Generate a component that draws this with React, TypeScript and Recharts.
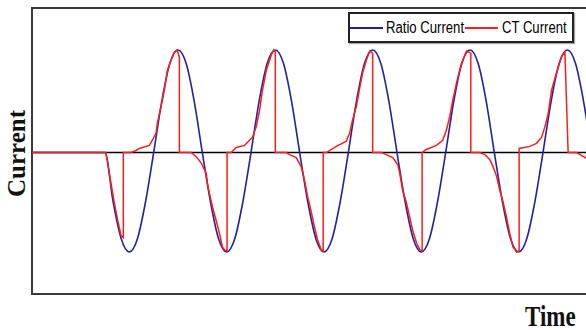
import { LineChart, Line, XAxis, YAxis, ReferenceArea, Legend } from "recharts"

// time in 1/12 of a cycle, current in per-unit of the peak
const timeDomain: [number, number] = [0, 72]
const currentDomain: [number, number] = [-1.38, 1.41]

const seriesNames = ["Ratio Current", "CT Current"]

const zeroAxis: [number, number][] = [
  [0, 0],
  [72, 0],
]

const ratioCurrent: [number, number][] = [
  [0, 0], [9, 0],
  [10, -0.48], [11, -0.84], [12, -0.97], [13, -0.84], [14, -0.48], [15, 0],
  [16, 0.5], [17, 0.87], [18, 1], [19, 0.87], [20, 0.5], [21, 0],
  [22, -0.48], [23, -0.84], [24, -0.97], [25, -0.84], [26, -0.48], [27, 0],
  [28, 0.5], [29, 0.87], [30, 1], [31, 0.87], [32, 0.5], [33, 0],
  [34, -0.48], [35, -0.84], [36, -0.97], [37, -0.84], [38, -0.48], [39, 0],
  [40, 0.5], [41, 0.87], [42, 1], [43, 0.87], [44, 0.5], [45, 0],
  [46, -0.48], [47, -0.84], [48, -0.97], [49, -0.84], [50, -0.48], [51, 0],
  [52, 0.5], [53, 0.87], [54, 1], [55, 0.87], [56, 0.5], [57, 0],
  [58, -0.48], [59, -0.84], [60, -0.97], [61, -0.84], [62, -0.48], [63, 0],
  [64, 0.5], [65, 0.87], [66, 1], [67, 0.87], [68, 0.5], [69, 0],
  [70, -0.48], [71, -0.84], [72, -0.97],
]

const ctCurrent: [number, number][] = [
  [0, 0], [9.1, 0],
  [9.32, -0.1], [9.74, -0.3], [10.15, -0.49], [10.56, -0.66], [10.98, -0.81], [11.26, -0.83], [11.26, 0],
  [12.2, 0], [12.83, 0.02], [13.23, 0.04], [14.47, 0.07], [14.84, 0.12], [15.3, 0.19], [15.46, 0.29],
  [15.91, 0.45], [16.32, 0.61], [16.69, 0.8], [17.15, 0.9], [17.56, 0.98], [17.89, 1.0], [18.17, 0.93], [18.17, 0],
  [19.62, 0], [20.23, -0.04], [20.85, -0.1], [21.47, -0.2], [21.63, -0.3], [21.88, -0.4], [22.25, -0.53],
  [22.7, -0.66], [23.11, -0.79], [23.48, -0.92], [23.73, -0.95], [24.05, -0.96], [24.05, 0],
  [24.56, 0], [25.17, 0.05], [26.2, 0.07], [27.19, 0.15], [27.64, 0.25], [28.05, 0.41], [28.42, 0.61],
  [28.88, 0.8], [29.49, 0.95], [29.81, 1.0], [30.0, 0.98], [30.0, 0],
  [31.35, 0], [31.75, -0.02], [32.58, -0.05], [33.2, -0.14], [33.6, -0.27], [33.98, -0.43], [34.43, -0.58],
  [34.84, -0.73], [35.2, -0.85], [35.67, -0.95], [35.9, -0.96], [35.9, 0],
  [36.3, 0], [37.52, 0.06], [38.75, 0.11], [39.16, 0.19], [39.53, 0.32], [39.99, 0.45], [40.4, 0.63],
  [40.77, 0.78], [41.22, 0.9], [41.63, 0.99], [42.0, 0.97], [42.0, 0],
  [43.07, 0], [43.69, -0.02], [44.47, -0.05], [45.1, -0.12], [45.33, -0.2], [45.7, -0.37], [46.16, -0.49],
  [46.57, -0.63], [46.94, -0.76], [47.4, -0.88], [47.8, -0.95], [48.1, -0.96], [48.1, 0],
  [48.6, 0.03], [49.86, 0.07], [50.64, 0.12], [51.1, 0.22], [51.5, 0.35], [51.88, 0.51], [52.33, 0.68],
  [52.95, 0.87], [53.57, 0.99], [54.1, 0.97], [54.1, 0],
  [55.2, 0], [55.83, -0.02], [56.45, -0.07], [56.85, -0.14], [57.27, -0.23], [57.68, -0.37], [58.1, -0.49],
  [58.5, -0.63], [58.9, -0.79], [59.3, -0.92], [59.74, -0.97], [60.06, -0.96], [60.06, 0.04],
  [61.38, 0.06], [62.2, 0.09], [62.83, 0.15], [63.23, 0.25], [63.64, 0.38], [64.06, 0.61], [64.68, 0.78],
  [65.3, 0.94], [65.7, 0.98], [66.1, 0],
  [67.15, 0], [68.2, -0.05], [69.0, -0.1], [69.6, -0.2], [70.2, -0.37], [70.7, -0.55], [71.2, -0.72], [72, -0.9],
]

const toRows = (pts: [number, number][]) => pts.map(([t, v]) => ({ t, v }))

const BLUE = "#22239c"
const RED = "#ff1c1c"
const labelFont = "'Liberation Serif', 'Times New Roman', serif"
const legendFont = "'Liberation Sans', Arial, sans-serif"

// narrow legend text: Arial squeezed like Arial Narrow
const legendSlots = [
  { line: 0, text: 36 },
  { line: 115, text: 151.5 },
]

function LegendBox({ payload }: any) {
  const items = (payload || [])
    .filter((p: any) => p.type !== "none")
    .sort((a: any, b: any) => seriesNames.indexOf(a.value) - seriesNames.indexOf(b.value))
  return (
    <div
      style={{
        position: "relative",
        boxSizing: "border-box",
        width: 226,
        height: 31,
        border: "2px solid #222",
        background: "white",
        boxShadow: "1px 1px 1px rgba(0,0,0,0.35)",
        fontFamily: legendFont,
        fontSize: 16,
        lineHeight: "16px",
        color: "#000",
      }}
    >
      {items.map((item: any, i: number) => (
        <div key={item.value}>
          <span
            style={{
              position: "absolute",
              left: legendSlots[i].line,
              top: 12.5,
              width: 33,
              height: 2,
              background: item.color,
            }}
          />
          <span
            style={{
              position: "absolute",
              left: legendSlots[i].text,
              top: 6,
              whiteSpace: "nowrap",
              transform: "scaleX(0.82)",
              transformOrigin: "left center",
            }}
          >
            {item.value}
          </span>
        </div>
      ))}
    </div>
  )
}

export default function App() {
  return (
    <div style={{ position: "absolute", left: 0, top: 0, width: 586, height: 330, overflow: "hidden", background: "white" }}>
      <LineChart width={620} height={330} margin={{ top: 8, right: 4, bottom: 36, left: 32 }}>
        <XAxis type="number" dataKey="t" domain={timeDomain} allowDataOverflow hide />
        <YAxis type="number" dataKey="v" domain={currentDomain} allowDataOverflow hide />
        <ReferenceArea
          x1={timeDomain[0]}
          x2={timeDomain[1]}
          y1={currentDomain[0]}
          y2={currentDomain[1]}
          fill="none"
          stroke="#3a3a3a"
          strokeWidth={2}
        />
        <Line
          data={toRows(zeroAxis)}
          dataKey="v"
          type="linear"
          stroke="#000"
          strokeWidth={1.5}
          dot={false}
          legendType="none"
          isAnimationActive={false}
        />
        <Line
          data={toRows(ratioCurrent)}
          dataKey="v"
          name={seriesNames[0]}
          type="monotone"
          stroke={BLUE}
          strokeWidth={1.6}
          dot={false}
          isAnimationActive={false}
        />
        <Line
          data={toRows(ctCurrent)}
          dataKey="v"
          name={seriesNames[1]}
          type="linear"
          stroke={RED}
          strokeWidth={1.5}
          dot={false}
          isAnimationActive={false}
        />
        <Legend
          layout="vertical"
          align="center"
          verticalAlign="middle"
          content={<LegendBox />}
          wrapperStyle={{ left: 348, top: 12, width: 226, height: 31 }}
        />
      </LineChart>
      <svg width={586} height={330} style={{ position: "absolute", left: 0, top: 0, pointerEvents: "none" }}>
        <text
          x={25}
          y={153.5}
          transform="rotate(-90 25 153.5)"
          textAnchor="middle"
          fontFamily={labelFont}
          fontWeight="bold"
          fontSize={25}
          fill="#111"
        >
          Current
        </text>
        <text
          x={525}
          y={326}
          transform="translate(0 326) scale(1 1.3) translate(0 -326)"
          fontFamily={labelFont}
          fontWeight="bold"
          fontSize={23}
          fill="#111"
        >
          Time
        </text>
      </svg>
    </div>
  )
}
